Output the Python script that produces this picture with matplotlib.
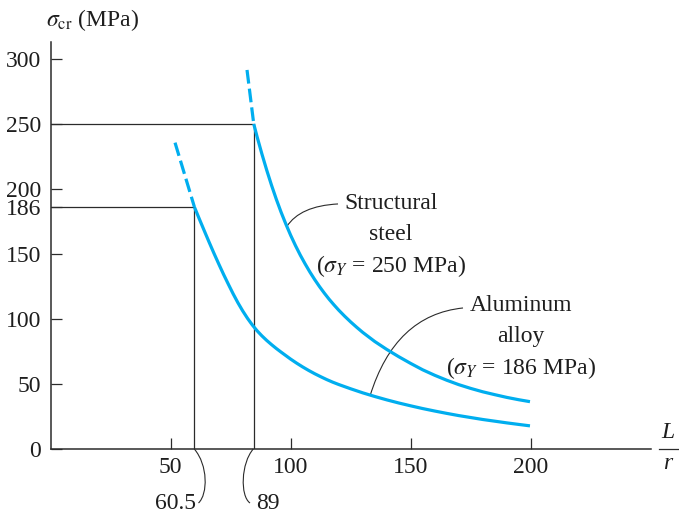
import matplotlib
matplotlib.use("Agg")
import matplotlib.pyplot as plt
from matplotlib.path import Path
from matplotlib.patches import PathPatch

plt.rcParams['font.family'] = ['Liberation Serif', 'DejaVu Serif']
plt.rcParams['mathtext.fontset'] = 'stix'

# ---- data ----
steel_x = [84.6, 86, 88, 90, 92, 94, 96, 98, 100, 102, 104, 106, 108, 110, 112, 114, 116, 118, 120,
           122.5, 125, 127.5, 130, 135, 140, 145, 150, 155, 160, 165, 170, 175, 180, 185, 190, 195, 199.7]
steel_y = [250, 240.1, 226.9, 214.5, 202.9, 192.1, 182.1, 172.9, 164.3, 156.4, 149.1, 142.4, 136.1, 130.3,
           124.9, 119.9, 115.2, 110.9, 106.8, 102.1, 97.7, 93.6, 89.7, 82.7, 76.6, 71.0, 65.8, 60.9, 56.7,
           52.9, 49.5, 46.6, 44.0, 41.8, 39.7, 37.9, 36.4]
steel_dash_x = [81.8, 84.6]
steel_dash_y = [291.5, 250]

alu_x = [59.9, 62, 64, 66, 68, 70, 72, 74, 76, 78, 80, 82, 84, 86, 88, 90, 92, 94, 96, 98, 100,
         102.5, 105, 107.5, 110, 112.5, 115, 117.5, 120, 125, 130, 135, 140, 145, 150, 155, 160, 165,
         170, 175, 180, 185, 190, 195, 199.7]
alu_y = [186, 176.6, 167.8, 159.1, 150.6, 142.4, 134.4, 126.8, 119.4, 112.5, 106.2, 100.5, 95.4, 90.9,
         87.0, 83.5, 80.3, 77.3, 74.5, 71.8, 69.1, 66.0, 63.1, 60.4, 57.9, 55.6, 53.4, 51.4, 49.6, 46.3,
         43.2, 40.4, 37.8, 35.4, 33.2, 31.1, 29.2, 27.4, 25.7, 24.2, 22.7, 21.4, 20.1, 18.9, 17.8]
alu_dash_x = [51.8, 59.9]
alu_dash_y = [235.6, 186]

steel_limit_x = 84.7
steel_limit_y = 250
alu_limit_x = 59.9
alu_limit_y = 186

x_ticks = [50, 100, 150, 200]
x_ticklabels = ['50', '100', '150', '200']
y_ticks = [0, 50, 100, 150, 186, 200, 250, 300]
y_ticklabels = ['0', '50', '100', '150', '186', '200', '250', '300']

steel_label = ['Structural', 'steel', r'($\sigma_Y$ = 250 MPa)']
alu_label = ['Aluminum', 'alloy', r'($\sigma_Y$ = 186 MPa)']
slender_labels = ['60.5', '89']

# ---- figure ----
W, H = 679, 512
fig = plt.figure(figsize=(W / 100, H / 100), dpi=100)
x0px, y0px = 50.7, 449
ax = fig.add_axes([x0px / W, (H - y0px) / H, 600 / W, 407 / H])
ax.set_xlim(0, 250)
ax.set_ylim(0, 313)

blue = '#00AEEF'
dark = '#2b2b2b'
txt = '#1e1e1e'
lw_curve = 2.3
fs = 17

ax.plot(steel_x, steel_y, color=blue, lw=lw_curve, solid_capstyle='butt', solid_joinstyle='round', zorder=3)
ax.plot(alu_x, alu_y, color=blue, lw=lw_curve, solid_capstyle='butt', solid_joinstyle='round', zorder=3)
ax.plot(steel_dash_x, steel_dash_y, color=blue, lw=lw_curve, dashes=(4.3, 1.6), dash_capstyle='butt', zorder=3)
ax.plot(alu_dash_x, alu_dash_y, color=blue, lw=lw_curve, dashes=(4.3, 1.6), dash_capstyle='butt', zorder=3)

# limit lines
ax.plot([0, steel_limit_x, steel_limit_x], [steel_limit_y, steel_limit_y, 0], color=dark, lw=0.9, zorder=2)
ax.plot([0, alu_limit_x, alu_limit_x], [alu_limit_y, alu_limit_y, 0], color=dark, lw=0.9, zorder=2)

# spines and ticks
for s in ['top', 'right']:
    ax.spines[s].set_visible(False)
for s in ['left', 'bottom']:
    ax.spines[s].set_color(dark)
    ax.spines[s].set_linewidth(1.1)
ax.set_xticks(x_ticks)
ax.set_xticklabels(x_ticklabels)
ax.set_yticks(y_ticks)
ax.set_yticklabels(y_ticklabels)
ax.tick_params(direction='in', length=8, width=0.9, color=dark, labelsize=fs, labelcolor=txt)
ax.tick_params(axis='y', pad=7)
ax.tick_params(axis='x', pad=6)


def px2d(px, py):
    return ((px - x0px) / 2.4, (y0px - py) / 1.3)


# axis labels
fig.text(46 / W, 1 - 20 / H, r'$\sigma_{\rm cr}$ (MPa)', fontsize=fs, ha='left', va='center', color=txt)
lx, ly = px2d(668, 433)
ax.text(lx, ly, 'L', fontsize=fs, style='italic', ha='center', va='center', clip_on=False, color=txt)
rx, ry = px2d(668, 463)
ax.text(rx, ry, 'r', fontsize=fs, style='italic', ha='center', va='center', clip_on=False, color=txt)
b0 = px2d(659, 449)
b1 = px2d(678, 449)
ax.plot([b0[0], b1[0]], [b0[1], b1[1]], color=dark, lw=0.9, clip_on=False)

# curve labels
for i, t in enumerate(steel_label):
    tx, ty = px2d(391, 204 + 31 * i)
    ax.text(tx, ty, t, fontsize=fs, ha='center', va='center', color=txt)
for i, t in enumerate(alu_label):
    tx, ty = px2d(521, 306 + 31 * i)
    ax.text(tx, ty, t, fontsize=fs, ha='center', va='center', color=txt)

# slenderness labels
tx, ty = px2d(196, 503)
ax.text(tx, ty, slender_labels[0], fontsize=fs, ha='right', va='center', clip_on=False, color=txt)
tx, ty = px2d(256, 503)
ax.text(tx, ty, slender_labels[1], fontsize=fs, ha='left', va='center', clip_on=False, color=txt)


def leader(points_px, codes):
    pts = [px2d(*p) for p in points_px]
    p = PathPatch(Path(pts, codes), fill=False, edgecolor=dark, lw=0.8, clip_on=False, zorder=2)
    ax.add_patch(p)


C4 = [Path.MOVETO, Path.CURVE4, Path.CURVE4, Path.CURVE4]
C3 = [Path.MOVETO, Path.CURVE3, Path.CURVE3]
leader([(286.7, 226.7), (300, 206), (338, 204)], C3)
leader([(370, 396), (395, 315), (463, 308)], C3)
leader([(194.3, 449), (208, 465), (208, 494), (198.5, 503)], C4)
leader([(253.3, 449), (241, 463), (240, 496), (250, 503)], C4)

fig.savefig('out.png', dpi=100)
